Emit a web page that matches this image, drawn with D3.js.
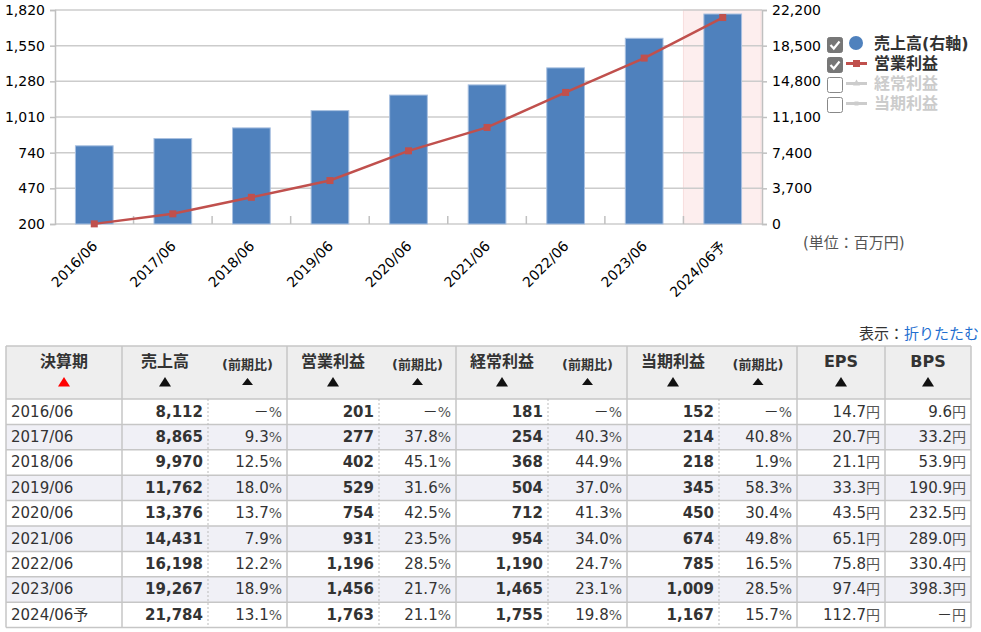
<!DOCTYPE html>
<html>
<head>
<meta charset="utf-8">
<script src="https://cdn.jsdelivr.net/npm/d3@7"></script>
<style>
  body {margin:0; background:#fff;}
  svg {display:block; font-family:"DejaVu Sans","Noto Sans CJK JP",sans-serif;}
</style>
</head>
<body>
<svg width="981" height="632"></svg>
<script>
// data (百万円)
var periods = ["2016/06","2017/06","2018/06","2019/06","2020/06","2021/06","2022/06","2023/06","2024/06予"];
var sales     = [8112, 8865, 9970, 11762, 13376, 14431, 16198, 19267, 21784];
var salesYoY  = [null, 9.3, 12.5, 18.0, 13.7, 7.9, 12.2, 18.9, 13.1];
var opIncome  = [201, 277, 402, 529, 754, 931, 1196, 1456, 1763];
var opYoY     = [null, 37.8, 45.1, 31.6, 42.5, 23.5, 28.5, 21.7, 21.1];
var ordIncome = [181, 254, 368, 504, 712, 954, 1190, 1465, 1755];
var ordYoY    = [null, 40.3, 44.9, 37.0, 41.3, 34.0, 24.7, 23.1, 19.8];
var netIncome = [152, 214, 218, 345, 450, 674, 785, 1009, 1167];
var netYoY    = [null, 40.8, 1.9, 58.3, 30.4, 49.8, 16.5, 28.5, 15.7];
var eps       = [14.7, 20.7, 21.1, 33.3, 43.5, 65.1, 75.8, 97.4, 112.7];
var bps       = [9.6, 33.2, 53.9, 190.9, 232.5, 289.0, 330.4, 398.3, null];
var leftTicks  = [200, 470, 740, 1010, 1280, 1550, 1820];
var rightTicks = [0, 3700, 7400, 11100, 14800, 18500, 22200];
var forecastPeriod = "2024/06予";
var legendNames = ["売上高(右軸)", "営業利益", "経常利益", "当期利益"];
var legendOn    = [true, true, false, false];

var svg = d3.select("svg");
var fmt = d3.format(",");

// ---------- chart ----------
var cLeft = 55, cRight = 762, cTop = 10, cBottom = 224;
var x = d3.scaleBand().domain(periods).range([cLeft, cRight]).padding(0);
var yL = d3.scaleLinear().domain([200, 1820]).range([cBottom, cTop]);
var yR = d3.scaleLinear().domain([0, 22200]).range([cBottom, cTop]);
var cx = function(p) { return x(p) + x.bandwidth() / 2; };
var barW = x.bandwidth() * 0.48;

var chart = svg.append("g");

chart.append("rect")
    .attr("x", x(forecastPeriod)).attr("y", cTop)
    .attr("width", x.bandwidth() - 1).attr("height", cBottom - cTop)
    .attr("fill", "#fdeeee").attr("stroke", "#f8dede");

chart.append("g").selectAll("line")
    .data(leftTicks)
  .enter().append("line")
    .attr("x1", cLeft).attr("x2", cRight)
    .attr("y1", function(d) { return yL(d); })
    .attr("y2", function(d) { return yL(d); })
    .attr("stroke", "#cccccc").attr("stroke-width", 1.5);

var axL = chart.append("g")
    .attr("transform", "translate(" + cLeft + ",0)")
    .call(d3.axisLeft(yL).tickValues(leftTicks).tickSize(5).tickPadding(5).tickFormat(fmt));
var axR = chart.append("g")
    .attr("transform", "translate(" + cRight + ",0)")
    .call(d3.axisRight(yR).tickValues(rightTicks).tickSize(5).tickPadding(5).tickFormat(fmt));
[axL, axR].forEach(function(a) {
  a.select(".domain").attr("stroke", "#c0c0c0").attr("stroke-width", 1.5);
  a.selectAll(".tick line").attr("stroke", "#c0c0c0").attr("stroke-width", 1.5);
  a.selectAll(".tick text").attr("fill", "#000").style("font-size", "14px")
      .style("font-family", "DejaVu Sans");
});

// category boundary ticks, pointing up
chart.append("g").selectAll("line")
    .data(periods.slice(1))
  .enter().append("line")
    .attr("x1", function(d) { return x(d); })
    .attr("x2", function(d) { return x(d); })
    .attr("y1", cBottom - 8).attr("y2", cBottom)
    .attr("stroke", "#c0c0c0").attr("stroke-width", 1.5);

chart.append("g").selectAll("text")
    .data(periods)
  .enter().append("text")
    .attr("transform", function(d) { return "translate(" + (cx(d) + 4) + "," + 247 + ") rotate(-45)"; })
    .attr("text-anchor", "end")
    .style("font-size", "14px")
    .attr("fill", "#000")
    .text(function(d) { return d; });

chart.append("g").selectAll("rect")
    .data(periods)
  .enter().append("rect")
    .attr("x", function(d) { return cx(d) - barW / 2; })
    .attr("width", barW)
    .attr("y", function(d, i) { return yR(sales[i]); })
    .attr("height", function(d, i) { return cBottom - yR(sales[i]); })
    .attr("fill", "#4f81bd")
    .attr("stroke", "#a9c0e0").attr("stroke-width", 1);

var line = d3.line()
    .x(function(d, i) { return cx(periods[i]); })
    .y(function(d) { return yL(d); });
chart.append("path")
    .datum(opIncome)
    .attr("d", line)
    .attr("fill", "none")
    .attr("stroke", "#c0504d").attr("stroke-width", 2.5);
chart.append("g").selectAll("rect")
    .data(opIncome)
  .enter().append("rect")
    .attr("x", function(d, i) { return cx(periods[i]) - 3.5; })
    .attr("y", function(d) { return yL(d) - 3.5; })
    .attr("width", 7).attr("height", 7)
    .attr("fill", "#c0504d");

// legend
var lg = svg.append("g").selectAll("g")
    .data(legendNames)
  .enter().append("g")
    .attr("transform", function(d, i) { return "translate(827," + (37 + i * 20) + ")"; });
lg.append("rect")
    .attr("x", 0.5).attr("y", 0.5).attr("width", 15).attr("height", 15).attr("rx", 2)
    .attr("fill", function(d, i) { return legendOn[i] ? "#777" : "#fff"; })
    .attr("stroke", function(d, i) { return legendOn[i] ? "#777" : "#888"; });
lg.filter(function(d, i) { return legendOn[i]; }).append("path")
    .attr("d", "M3.5,8 L6.8,11.5 L12.5,4.5")
    .attr("fill", "none").attr("stroke", "#fff").attr("stroke-width", 2.2);
lg.each(function(d, i) {
  var g = d3.select(this);
  if (i === 0) {
    g.append("circle").attr("cx", 29).attr("cy", 6).attr("r", 7).attr("fill", "#4f81bd");
  } else {
    var c = legendOn[i] ? "#c0504d" : "#cccccc";
    g.append("line").attr("x1", 19).attr("x2", 40).attr("y1", 6.5).attr("y2", 6.5)
        .attr("stroke", c).attr("stroke-width", 3);
    if (i === 1) g.append("rect").attr("x", 26).attr("y", 3).attr("width", 7).attr("height", 7).attr("fill", c);
    if (i === 2) g.append("path").attr("d", "M29.5,2.5 L33,8.5 L26,8.5 Z").attr("fill", c);
    if (i === 3) g.append("rect").attr("x", 27.5).attr("y", 4.5).attr("width", 4).attr("height", 4).attr("fill", c);
  }
});
lg.append("text")
    .attr("x", 47).attr("y", 6)
    .attr("dominant-baseline", "central")
    .style("font-size", "16px").style("font-weight", "bold")
    .attr("fill", function(d, i) { return legendOn[i] ? "#333" : "#cccccc"; })
    .text(function(d) { return d; });

svg.append("text")
    .attr("x", 803).attr("y", 248)
    .style("font-size", "15px").attr("fill", "#555")
    .text("(単位：百万円)");

var disp = svg.append("text")
    .attr("x", 979).attr("y", 339)
    .attr("text-anchor", "end")
    .style("font-size", "15px");
disp.append("tspan").attr("fill", "#333").text("表示：");
disp.append("tspan").attr("fill", "#1f6fd0").text("折りたたむ");

// ---------- table ----------
var colWidths = [116, 86, 79, 92, 77, 92, 79, 92, 78, 88, 86];
var colEdges = [6];
colWidths.forEach(function(w, i) { colEdges.push(colEdges[i] + w); });

var columns = [
  {head: "決算期", values: periods, type: "period"},
  {head: "売上高", values: sales, type: "num"},
  {head: "(前期比)", values: salesYoY, type: "pct"},
  {head: "営業利益", values: opIncome, type: "num"},
  {head: "(前期比)", values: opYoY, type: "pct"},
  {head: "経常利益", values: ordIncome, type: "num"},
  {head: "(前期比)", values: ordYoY, type: "pct"},
  {head: "当期利益", values: netIncome, type: "num"},
  {head: "(前期比)", values: netYoY, type: "pct"},
  {head: "EPS", values: eps, type: "yen"},
  {head: "BPS", values: bps, type: "yen"}
];

var tTop = 346, headH = 53, rowH = 25.4;
var tLeft = colEdges[0], tRight = colEdges[colEdges.length - 1];
var tBottom = tTop + headH + rowH * periods.length;
var table = svg.append("g");

table.append("rect")
    .attr("x", tLeft).attr("y", tTop).attr("width", tRight - tLeft).attr("height", headH)
    .attr("fill", "#eeeeee");
table.append("g").selectAll("rect")
    .data(periods)
  .enter().append("rect")
    .attr("x", tLeft).attr("width", tRight - tLeft)
    .attr("y", function(d, i) { return tTop + headH + i * rowH; })
    .attr("height", rowH)
    .attr("fill", function(d, i) { return i % 2 ? "#f0f0f6" : "#ffffff"; });

// horizontal rules
var hys = [tTop, tTop + headH].concat(periods.map(function(d, i) { return tTop + headH + (i + 1) * rowH; }));
table.append("g").selectAll("line")
    .data(hys)
  .enter().append("line")
    .attr("x1", tLeft).attr("x2", tRight)
    .attr("y1", function(d) { return d; }).attr("y2", function(d) { return d; })
    .attr("stroke", "#c6c6c6").attr("stroke-width", 1.5);

// vertical rules: solid between groups, dashed before (前期比) in the body
table.append("g").selectAll("line")
    .data(colEdges)
  .enter().append("line")
    .attr("x1", function(d) { return d; }).attr("x2", function(d) { return d; })
    .attr("y1", function(d, i) { return columns[i] && columns[i].type === "pct" ? tTop + headH : tTop; })
    .attr("y2", tBottom)
    .attr("stroke", function(d, i) { return columns[i] && columns[i].type === "pct" ? "#bbbbbb" : "#c6c6c6"; })
    .attr("stroke-width", function(d, i) { return columns[i] && columns[i].type === "pct" ? 1 : 1.5; })
    .attr("stroke-dasharray", function(d, i) { return columns[i] && columns[i].type === "pct" ? "2,2" : null; });

// header
var head = table.append("g").selectAll("g")
    .data(columns)
  .enter().append("g")
    .attr("transform", function(d, i) { return "translate(" + ((colEdges[i] + colEdges[i + 1]) / 2) + ",0)"; });
head.append("text")
    .attr("y", function(d) { return d.type === "pct" ? 369 : 367; })
    .attr("text-anchor", "middle")
    .style("font-weight", "bold")
    .style("font-size", function(d) { return d.type === "pct" ? "13px" : "16px"; })
    .attr("fill", "#333")
    .text(function(d) { return d.head; });
head.append("path")
    .attr("d", function(d) {
      return d.type === "pct" ? "M0,378 L5.5,385 L-5.5,385 Z" : "M0,377 L6,386.5 L-6,386.5 Z";
    })
    .attr("fill", function(d) { return d.type === "period" ? "#ff0000" : "#111"; });

// body cells
function cellText(sel, d) {
  var v = d.value;
  if (d.type === "period") { sel.text(v); return; }
  if (d.type === "num") { sel.text(fmt(v)); return; }
  var unit = d.type === "pct" ? "%" : "円";
  sel.append("tspan").text(v === null ? "－" : v.toFixed(1));
  sel.append("tspan").attr("fill", "#555").style("font-size", "14px").text(unit);
}

var rows = table.append("g").selectAll("g")
    .data(periods)
  .enter().append("g")
    .attr("transform", function(d, i) { return "translate(0," + (tTop + headH + i * rowH + 17.5) + ")"; });
rows.selectAll("text")
    .data(function(p, r) {
      return columns.map(function(c, i) { return {type: c.type, value: c.values[r], col: i}; });
    })
  .enter().append("text")
    .attr("x", function(d) { return d.type === "period" ? colEdges[d.col] + 5 : colEdges[d.col + 1] - 5; })
    .attr("text-anchor", function(d) { return d.type === "period" ? "start" : "end"; })
    .style("font-size", "15px")
    .style("font-weight", function(d) { return d.type === "num" ? "bold" : "normal"; })
    .attr("fill", "#333")
    .each(function(d) { cellText(d3.select(this), d); });
</script>
</body>
</html>
